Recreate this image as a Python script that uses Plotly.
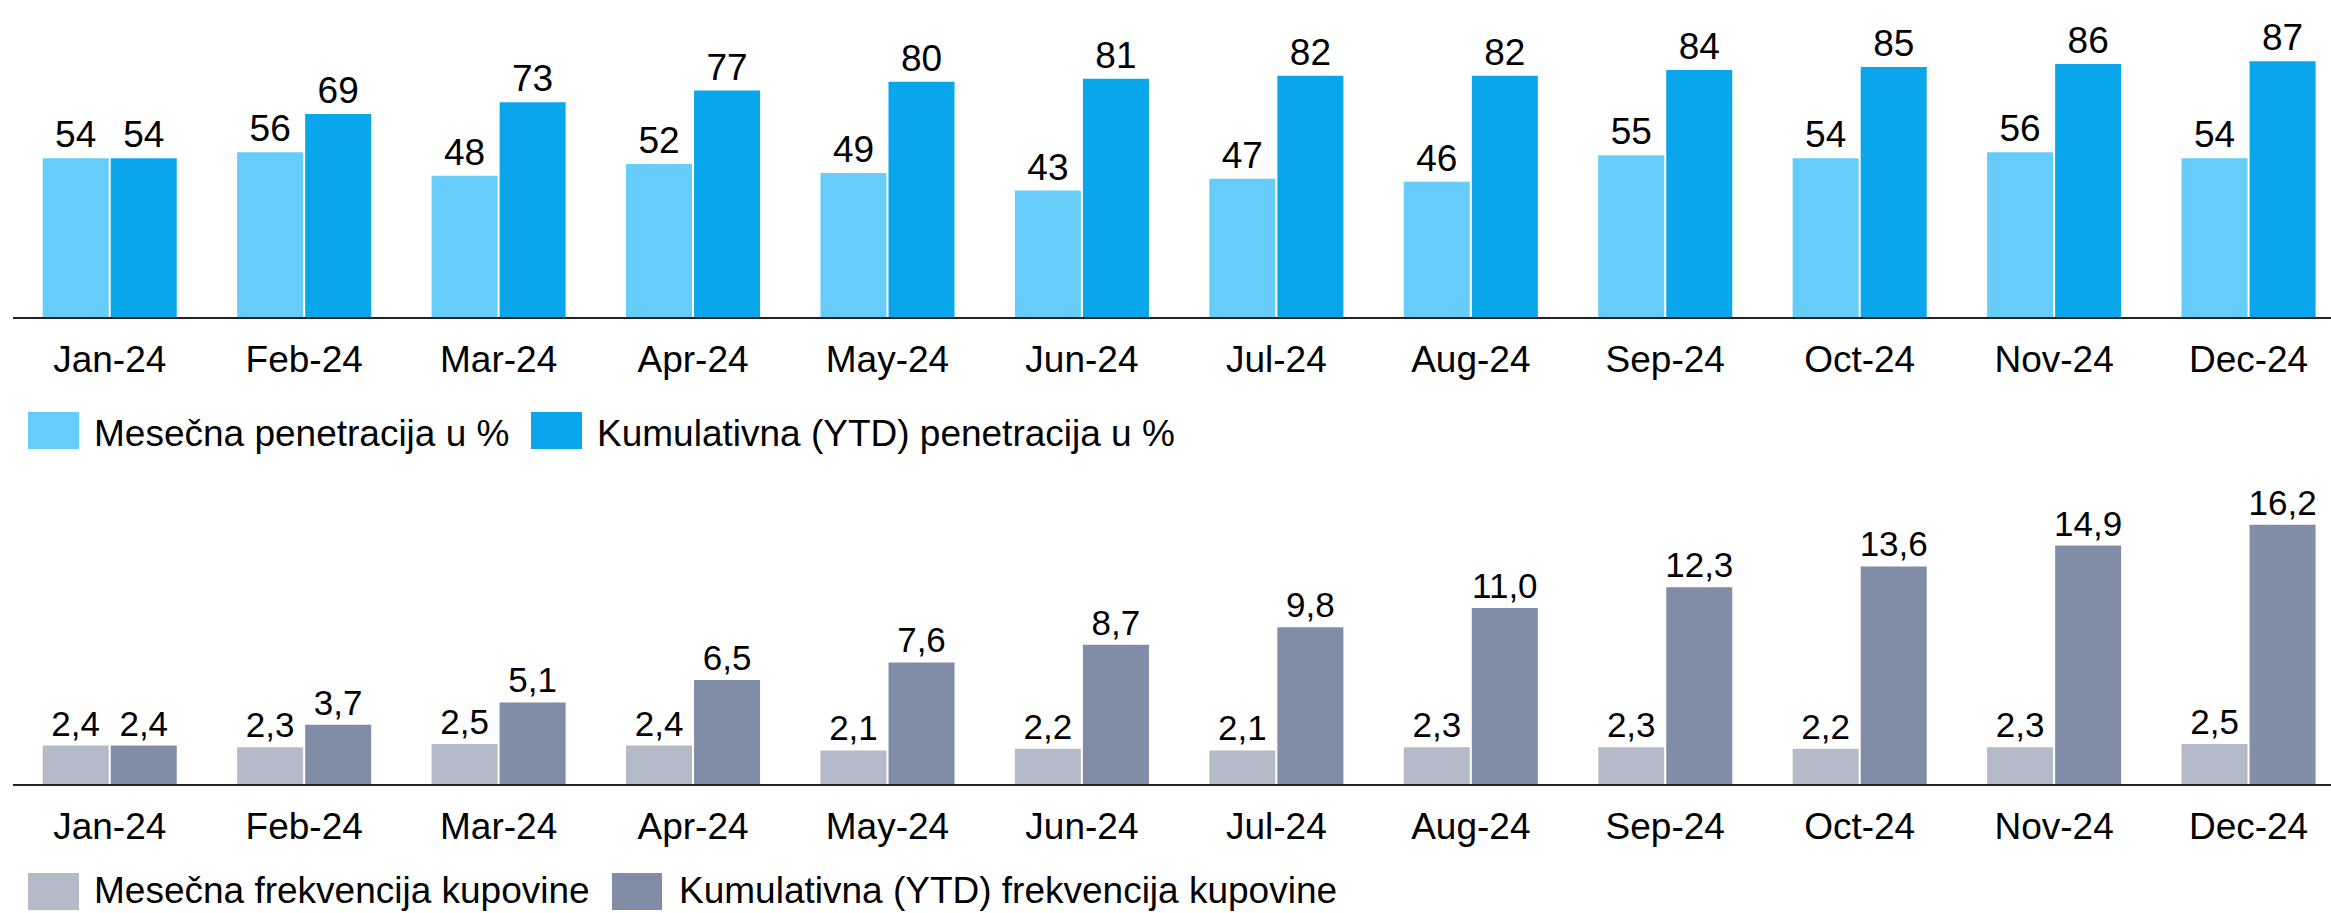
import plotly.graph_objects as go

# data
months = ['Jan-24', 'Feb-24', 'Mar-24', 'Apr-24', 'May-24', 'Jun-24',
          'Jul-24', 'Aug-24', 'Sep-24', 'Oct-24', 'Nov-24', 'Dec-24']
pen_monthly = [54, 56, 48, 52, 49, 43, 47, 46, 55, 54, 56, 54]
pen_ytd = [54, 69, 73, 77, 80, 81, 82, 82, 84, 85, 86, 87]
freq_monthly = [2.4, 2.3, 2.5, 2.4, 2.1, 2.2, 2.1, 2.3, 2.3, 2.2, 2.3, 2.5]
freq_ytd = [2.4, 3.7, 5.1, 6.5, 7.6, 8.7, 9.8, 11.0, 12.3, 13.6, 14.9, 16.2]

names_top = ['Mesečna penetracija u %', 'Kumulativna (YTD) penetracija u %']
names_bottom = ['Mesečna frekvencija kupovine', 'Kumulativna (YTD) frekvencija kupovine']

c_light_blue = '#66CCFA'
c_blue = '#0AA6EB'
c_light_grey = '#B4BAC8'
c_grey = '#818DA6'

W, H = 2331, 913
FONT = 'Liberation Sans, Arial, sans-serif'


def px_x(p):
    return p / W


def px_y(p):
    return 1 - p / H


fig = go.Figure()

bar_style = dict(textposition='outside', cliponaxis=False, constraintext='none',
                 marker_line_width=0, showlegend=False)

fig.add_trace(go.Bar(x=months, y=pen_monthly, name=names_top[0], marker_color=c_light_blue,
                     texttemplate='%{y:.0f}', textfont=dict(size=37, color='black'),
                     xaxis='x', yaxis='y', **bar_style))
fig.add_trace(go.Bar(x=months, y=pen_ytd, name=names_top[1], marker_color=c_blue,
                     texttemplate='%{y:.0f}', textfont=dict(size=37, color='black'),
                     xaxis='x', yaxis='y', **bar_style))
fig.add_trace(go.Bar(x=months, y=freq_monthly, name=names_bottom[0], marker_color=c_light_grey,
                     texttemplate='%{y:.1f}', textfont=dict(size=35, color='black'),
                     xaxis='x2', yaxis='y2', **bar_style))
fig.add_trace(go.Bar(x=months, y=freq_ytd, name=names_bottom[1], marker_color=c_grey,
                     texttemplate='%{y:.1f}', textfont=dict(size=35, color='black'),
                     xaxis='x2', yaxis='y2', **bar_style))

xdom = [px_x(12.5), 1]
xaxis_style = dict(domain=xdom, range=[-0.5, 11.424], showline=True, linecolor='#222222',
                   linewidth=2, ticks='', showgrid=False, zeroline=False,
                   tickfont=dict(size=37, color='black', family=FONT),
                   ticklabelstandoff=9, fixedrange=True)
yaxis_style = dict(showgrid=False, zeroline=False, showticklabels=False, ticks='',
                   showline=False, fixedrange=True)

# legend drawn by hand so the swatches can be big like in the original
legend_items = [
    (28, 79, 412, 449, c_light_blue, 92, 433.5, names_top[0]),
    (531, 582, 412, 449, c_blue, 595, 433.5, names_top[1]),
    (28, 79, 873, 910, c_light_grey, 92, 890, names_bottom[0]),
    (612, 662, 873, 910, c_grey, 677, 890, names_bottom[1]),
]
shapes = []
annotations = []
for x0, x1, y0, y1, col, tx, ty, label in legend_items:
    shapes.append(dict(type='rect', xref='paper', yref='paper',
                       x0=px_x(x0), x1=px_x(x1), y0=px_y(y1), y1=px_y(y0),
                       fillcolor=col, line_width=0))
    annotations.append(dict(text=label, xref='paper', yref='paper', x=px_x(tx), y=px_y(ty),
                            xanchor='left', yanchor='middle', showarrow=False,
                            font=dict(size=37, color='black', family=FONT)))

fig.update_layout(
    width=W, height=H,
    margin=dict(l=0, r=0, t=0, b=0),
    paper_bgcolor='white', plot_bgcolor='white',
    font=dict(family=FONT, color='black'),
    barmode='group', bargap=0.3, bargroupgap=0.03,
    separators=',.',
    showlegend=False,
    xaxis=dict(anchor='y', **xaxis_style),
    xaxis2=dict(anchor='y2', **xaxis_style),
    yaxis=dict(domain=[px_y(317), 1], range=[0, 107.8], anchor='x', **yaxis_style),
    yaxis2=dict(domain=[px_y(784), px_y(464)], range=[0, 20], anchor='x2', **yaxis_style),
    shapes=shapes,
    annotations=annotations,
)

# page body has a default 8px margin, drop it so the figure sits at the corner
fig.write_html('out.html', config={'displayModeBar': False},
               post_script="document.body.style.margin='0';")
